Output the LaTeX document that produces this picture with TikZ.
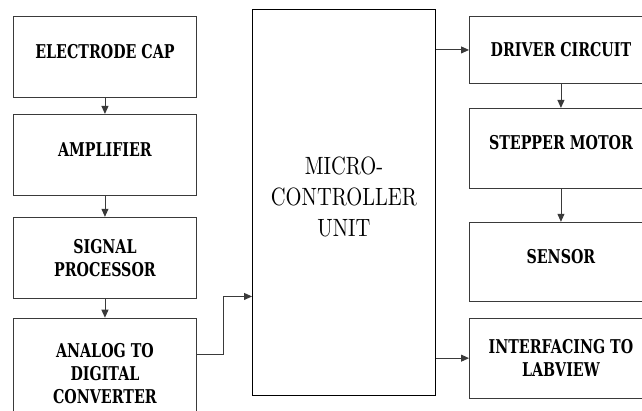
\documentclass[tikz,border=0pt]{standalone}
\usepackage{fontspec}
\newfontfamily\blkfont{DejaVu Serif}[FakeStretch=0.75]
\newfontfamily\mcufont{lmroman10-regular.otf}[FakeStretch=0.82]
\usetikzlibrary{positioning,arrows.meta}
\definecolor{cLine}{HTML}{3A3A3A}

\begin{document}
\begin{tikzpicture}[x=1pt,y=1pt,node distance=16pt,
  blk/.style={draw=cLine,line width=0.9pt,align=center,inner sep=2pt,
              minimum width=183pt,minimum height=81pt,
              font=\blkfont\bfseries\fontsize{19}{23}\selectfont},
  one/.style={text depth=11pt},
  mcu/.style={draw=black,line width=0.9pt,align=center,inner sep=2pt,
              minimum width=183pt,minimum height=386pt,text depth=12pt,
              font=\mcufont\fontsize{25}{31}\selectfont},
  ar/.style={-{Triangle[length=8pt,width=7pt]},line width=0.9pt,draw=cLine}]

\useasboundingbox (0,0) rectangle (642,-411);

\node[blk,one,anchor=north west] (ecap) at (13,-16) {ELECTRODE CAP};
\node[blk,one,below=16pt of ecap] (amp) {AMPLIFIER};
\node[blk,below=21pt of amp] (sigp) {SIGNAL\\PROCESSOR};
\node[blk,below=19pt of sigp,minimum height=110pt] (adc)
  {ANALOG TO\\DIGITAL\\CONVERTER};

\node[mcu,anchor=north west] (mcu) at (252,-9) {MICRO-\\CONTROLLER\\UNIT};

\node[blk,anchor=north west,minimum height=67pt] (drv) at (469,-16)
  {DRIVER CIRCUIT};
\node[blk,one,below=24pt of drv,minimum height=80pt] (stm) {STEPPER MOTOR};
\node[blk,one,below=33pt of stm,minimum height=79pt] (sens) {SENSOR};
\node[blk,below=16pt of sens,minimum height=80pt] (lab)
  {INTERFACING TO\\LABVIEW};

\draw[ar] (ecap) -- (amp);
\draw[ar] (amp) -- (sigp);
\draw[ar] (sigp) -- (adc);
\draw[ar] ([yshift=19pt]adc.east) -- ++(27,0) |- ([yshift=-94pt]mcu.west);

\draw[ar] (mcu.east |- drv) -- (drv);
\draw[ar] (drv) -- (stm);
\draw[ar] (stm) -- (sens);
\draw[ar] (mcu.east |- lab) -- (lab);
\end{tikzpicture}
\end{document}
